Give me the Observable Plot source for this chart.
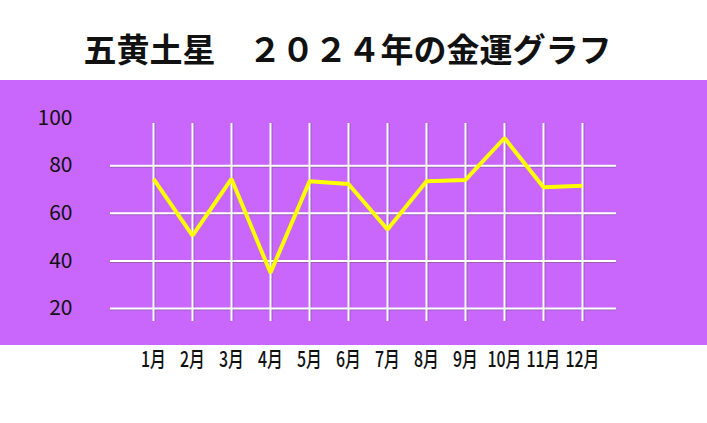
<!DOCTYPE html>
<html>
<head>
<meta charset="utf-8">
<script src="https://cdn.jsdelivr.net/npm/d3@7"></script>
<script src="https://cdn.jsdelivr.net/npm/@observablehq/plot@0.6"></script>
<style>
  html, body { margin: 0; padding: 0; background: #ffffff; }
  #title {
    width: 707px; height: 80px; box-sizing: border-box;
    padding-top: 30px; padding-right: 12px;
    text-align: center; line-height: 36px;
    font-family: "Noto Sans CJK JP", sans-serif; font-weight: 700;
    font-size: 33px; color: #111;
  }
  #chart svg { display: block; }
</style>
</head>
<body>
<div id="title">五黄土星　２０２４年の金運グラフ</div>
<div id="chart"></div>
<script>
const months = ["1月","2月","3月","4月","5月","6月","7月","8月","9月","10月","11月","12月"];
const fortune = [74.4, 50.6, 74.4, 35, 73.4, 72.3, 53.2, 73.4, 74, 91.6, 70.9, 71.6];
const yTickLabels = [20, 40, 60, 80, 100];
const gridValues = [20, 40, 60, 80];

const data = months.map((m, i) => ({month: m, value: fortune[i]}));

const purple = "#c966fc";

const chart = Plot.plot({
  width: 707,
  height: 343,
  marginLeft: 110,
  marginRight: 91,
  marginTop: 43,
  marginBottom: 102,
  style: {
    background: `linear-gradient(to bottom, ${purple} 0px, ${purple} 265px, #ffffff 265px, #ffffff 100%)`,
    fontFamily: "'Noto Sans CJK JP', sans-serif",
    color: "#111",
    overflow: "visible"
  },
  x: {type: "point", domain: months, range: [151, 583], padding: 0},
  y: {domain: [20, 100], range: [228, 37.5]},
  marks: [
    Plot.gridX(months, {stroke: "#7d5a90", strokeOpacity: 0.6, strokeWidth: 1.5, dx: 1.3}),
    Plot.gridY(gridValues, {stroke: "#7d5a90", strokeOpacity: 0.6, strokeWidth: 1.5, dy: 1.3}),
    Plot.gridX(months, {stroke: "#ffffff", strokeOpacity: 1, strokeWidth: 2}),
    Plot.gridY(gridValues, {stroke: "#ffffff", strokeOpacity: 1, strokeWidth: 2}),
    Plot.axisY(yTickLabels, {tickSize: 0, tickPadding: 38, fontSize: 21, label: null}),
    Plot.axisX(months, {tickSize: 0, tickPadding: 30, fontSize: 21.5, fontWeight: 500, label: null}),
    Plot.line(data, {x: "month", y: "value", stroke: "#ffff00", strokeWidth: 4, strokeLinejoin: "miter", strokeLinecap: "butt"})
  ]
});

// narrow (condensed) look for the month labels, as in the reference
d3.select(chart).selectAll('g[aria-label="x-axis tick label"] text').each(function() {
  const t = this.getAttribute("transform");
  if (t) {
    this.setAttribute("transform", t + " scale(0.74,1)");
  } else {
    const x = +this.getAttribute("x") || 0;
    const y = +this.getAttribute("y") || 0;
    this.setAttribute("transform", `translate(${x},${y}) scale(0.74,1) translate(${-x},${-y})`);
  }
});

document.getElementById("chart").appendChild(chart);
</script>
</body>
</html>
